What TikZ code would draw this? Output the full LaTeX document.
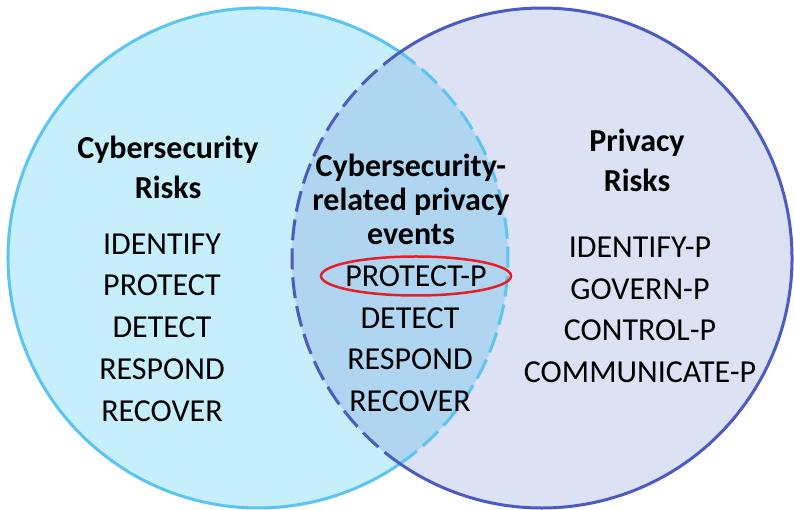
\documentclass[tikz,border=0pt]{standalone}
\usepackage{fontspec}
\setmainfont{Carlito}
\usetikzlibrary{shapes.geometric}
\definecolor{cyfill}{RGB}{198,238,251}
\definecolor{cyline}{RGB}{90,197,240}
\definecolor{prfill}{RGB}{221,225,244}
\definecolor{prline}{RGB}{74,92,194}
\definecolor{mixfill}{RGB}{176,213,240}
\definecolor{ovred}{RGB}{230,30,40}
\begin{document}
\begin{tikzpicture}[x=1pt,y=1pt,
  head/.style={font=\fontsize{32}{40}\selectfont\bfseries, align=center, text=black},
  midhead/.style={font=\fontsize{32}{34}\selectfont\bfseries, align=center, text=black},
  items/.style={font=\fontsize{32}{41.7}\selectfont, align=center, text=black},
  solidline/.style={line width=3pt},
  dashline/.style={line width=3pt, dash pattern=on 21pt off 8pt}]
\useasboundingbox (0,0) rectangle (794,510);
\coordinate (cl) at (258,252);
\coordinate (cr) at (542,252);
% fills
\fill[cyfill] (cl) circle[radius=250];
\fill[prfill] (cr) circle[radius=250];
\begin{scope}
  \clip (cl) circle[radius=250];
  \fill[mixfill] (cr) circle[radius=250];
\end{scope}
% outlines
\draw[solidline, cyline] (cl) ++(55.39:250) arc[start angle=55.39, end angle=304.61, radius=250];
\draw[dashline, cyline] (cl) ++(-55.39:250) arc[start angle=-55.39, end angle=55.39, radius=250];
\draw[solidline, prline] (cr) ++(-124.61:250) arc[start angle=-124.61, end angle=124.61, radius=250];
\draw[dashline, prline] (cr) ++(124.61:250) arc[start angle=124.61, end angle=235.39, radius=250];
% texts
\node[head] (lh) at (168,343) {Cybersecurity\\Risks};
\node[items] (ll) at (162,182.5) {IDENTIFY\\PROTECT\\DETECT\\RESPOND\\RECOVER};
\node[midhead] (mh) at (411,311) {Cybersecurity-\\related privacy\\events};
\node[items] (mp) at (416,234) {PROTECT-P};
\node[draw=ovred, line width=2.5pt, ellipse, minimum width=190pt, minimum height=39pt, inner sep=0pt] (ov) at (mp) {};
\node[items] (ml) at (410,150.5) {DETECT\\RESPOND\\RECOVER};
\node[head] (rh) at (637,350) {Privacy\\Risks};
\node[items] (rl) at (640,200) {IDENTIFY-P\\GOVERN-P\\CONTROL-P\\COMMUNICATE-P};
\end{tikzpicture}
\end{document}
